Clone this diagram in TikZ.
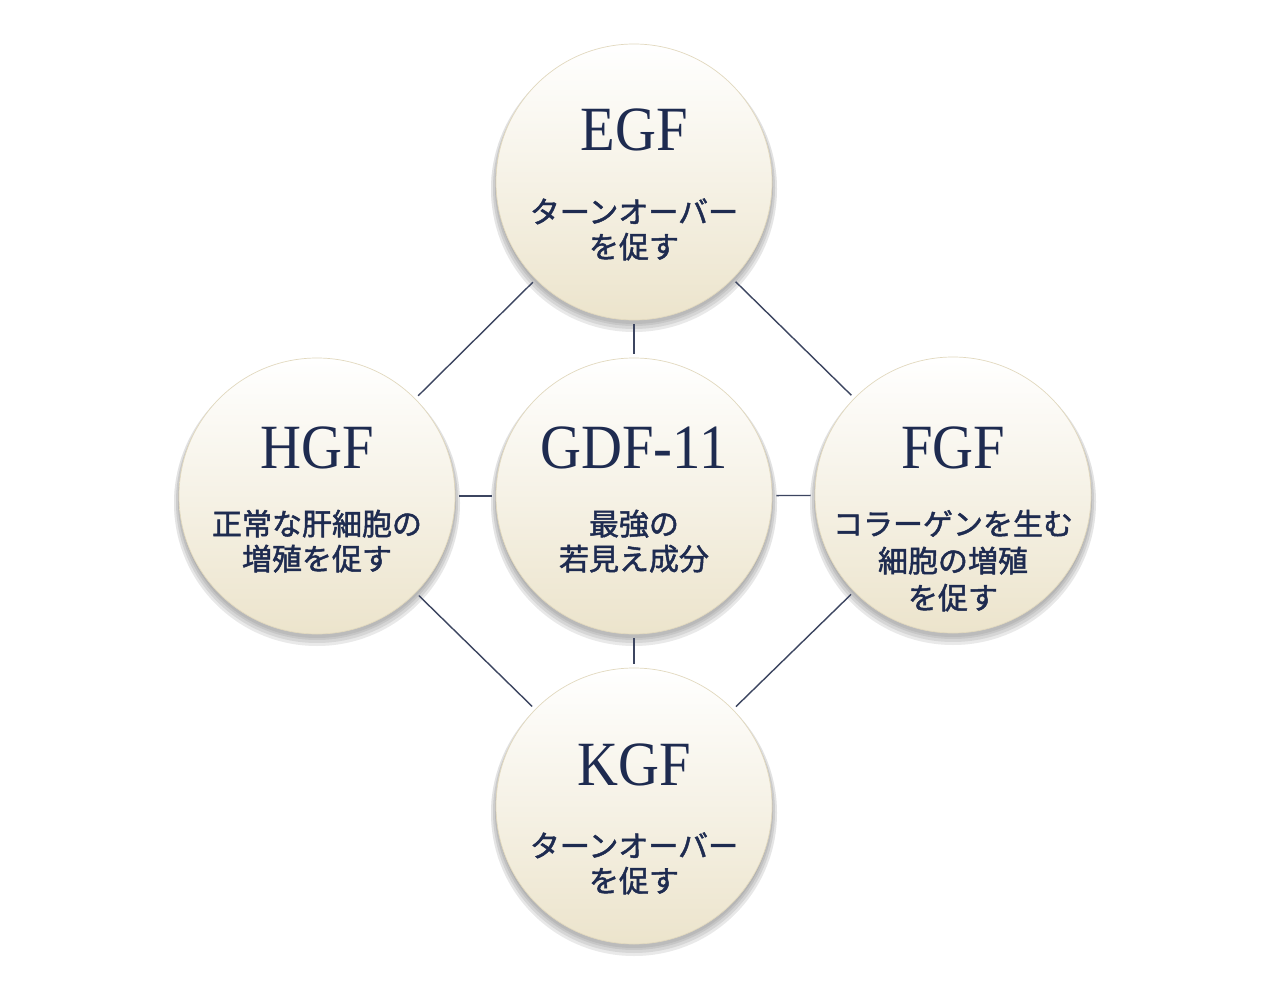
\documentclass[tikz,border=0pt]{standalone}
\usepackage{fontspec}
\setmainfont{Liberation Serif}
\newfontfamily\titlefont{Liberation Serif}[FakeStretch=0.9]
\newfontfamily\jpfont{Noto Sans CJK JP}[FakeBold=1.6]
\usetikzlibrary{calc}
\definecolor{navy}{HTML}{1E2B50}
\definecolor{linec}{HTML}{3C4560}
\definecolor{cream}{HTML}{ECE4CC}
\definecolor{rim}{HTML}{E2D9BF}
\definecolor{shade}{HTML}{C9BE9C}
\tikzset{
  ball/.style={circle, minimum size=276pt, inner sep=0pt, draw=rim, line width=0.7pt,
    top color=white, bottom color=cream, middle color=white!50!cream},
  conn/.style={draw=linec, line width=1.4pt, shorten <=4pt, shorten >=4pt},
  ttl/.style={anchor=base, text=navy, font=\titlefont\fontsize{63}{63}\selectfont},
  jp/.style={anchor=base, text=navy, font=\jpfont\fontsize{30}{35}\selectfont}
}
\newcommand\ballshadow[1]{%
  \foreach \k/\d in {0/5,2/5,4/6,6/7}{\fill[shade, opacity=0.09] ($(#1)+(0,\d)$) circle[radius=137+\k];}}
\begin{document}
\begin{tikzpicture}[x=1pt,y=-1pt]
\useasboundingbox (0,0) rectangle (1280,1006);
\fill[white] (0,0) rectangle (1280,1006);
% centers
\coordinate (cE) at (634,182);
\coordinate (cH) at (317,496);
\coordinate (cG) at (634,496);
\coordinate (cF) at (953,495);
\coordinate (cK) at (634,806);
% shadows
\ballshadow{cE}\ballshadow{cH}\ballshadow{cG}\ballshadow{cF}\ballshadow{cK}
% circles
\node[ball] (egf) at (cE) {};
\node[ball] (hgf) at (cH) {};
\node[ball] (gdf) at (cG) {};
\node[ball] (fgf) at (cF) {};
\node[ball] (kgf) at (cK) {};
% connectors
\draw[conn] (egf) -- (hgf);
\draw[conn] (egf) -- (fgf);
\draw[conn] (egf) -- (gdf);
\draw[conn] (hgf) -- (gdf);
\draw[conn] (gdf) -- (fgf);
\draw[conn] (gdf) -- (kgf);
\draw[conn] (hgf) -- (kgf);
\draw[conn] (fgf) -- (kgf);
% texts
\node[ttl] (tE) at (634,150) {EGF};
\node[jp] (jE1) at (634,223) {ターンオーバー};
\node[jp] (jE2) at (634,258) {を促す};

\node[ttl] (tH) at (317,468) {HGF};
\node[jp] (jH1) at (317,535) {正常な肝細胞の};
\node[jp] (jH2) at (317,570) {増殖を促す};

\node[ttl] (tG) at (634,468) {GDF-11};
\node[jp] (jG1) at (634,535) {最強の};
\node[jp] (jG2) at (634,570) {若見え成分};

\node[ttl] (tF) at (953,468) {FGF};
\node[jp] (jF1) at (953,535) {コラーゲンを生む};
\node[jp] (jF2) at (953,572) {細胞の増殖};
\node[jp] (jF3) at (953,609) {を促す};

\node[ttl] (tK) at (634,785) {KGF};
\node[jp] (jK1) at (634,857) {ターンオーバー};
\node[jp] (jK2) at (634,892) {を促す};
\end{tikzpicture}
\end{document}
